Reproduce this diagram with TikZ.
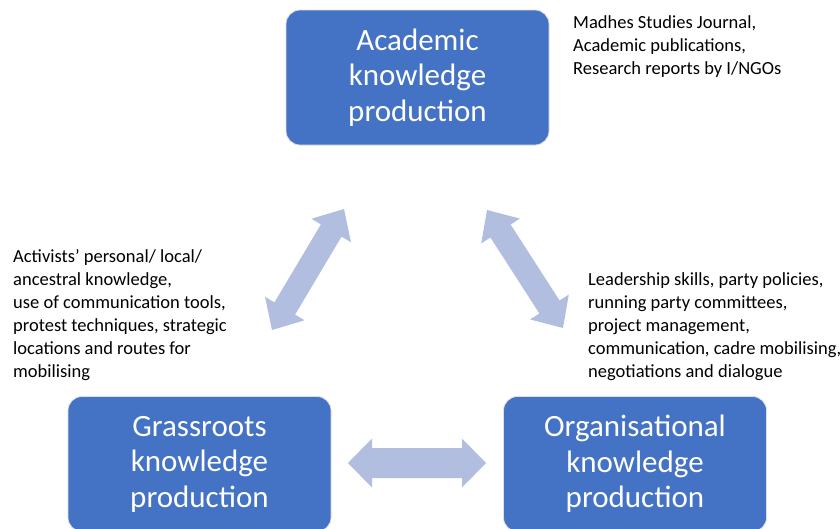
\documentclass[tikz,border=0pt]{standalone}
\usepackage{fontspec}
\setmainfont{Carlito}
\usetikzlibrary{calc}
\definecolor{boxblue}{RGB}{68,114,196}
\definecolor{arrowfill}{RGB}{177,190,224}
\newcommand{\dblarrow}[5]{%
  \coordinate (ha) at ($(#1)!#5!(#2)$);
  \coordinate (hb) at ($(#2)!#5!(#1)$);
  \fill[arrowfill] (#1) -- ($(ha)!#4!90:(#2)$) -- ($(ha)!#3!90:(#2)$)
    -- ($(hb)!#3!-90:(#1)$) -- ($(hb)!#4!-90:(#1)$) -- (#2)
    -- ($(hb)!#4!90:(#1)$) -- ($(hb)!#3!90:(#1)$)
    -- ($(ha)!#3!-90:(#2)$) -- ($(ha)!#4!-90:(#2)$) -- cycle;}
\begin{document}
\begin{tikzpicture}[x=1pt,y=-1pt,
  box/.style={fill=boxblue,draw=gray!25,line width=0.8pt,rounded corners=14pt,
    minimum width=263pt,minimum height=135pt,text=white,align=center,
    font=\fontsize{31}{35.5}\selectfont,inner sep=0pt},
  note/.style={align=left,anchor=north west,inner sep=0pt,
    font=\fontsize{18.5}{23}\selectfont}]
\useasboundingbox (0,0) rectangle (840,528);
\clip (0,0) rectangle (840,528);
\node[box] (acad) at (417.5,77.5) {Academic\\knowledge\\production};
\node[box] (grass) at (199.5,464) {Grassroots\\knowledge\\production};
\node[box] (org) at (635,464) {Organisational\\knowledge\\production};
\node[note] (tacad) at (573,15) {Madhes Studies Journal,\\Academic publications,\\Research reports by I/NGOs};
\node[note] (tgrass) at (13,249) {Activists’ personal/ local/\\ancestral knowledge,\\use of communication tools,\\protest techniques, strategic\\locations and routes for\\mobilising};
\node[note] (torg) at (588,272) {Leadership skills, party policies,\\running party committees,\\project management,\\communication, cadre mobilising,\\negotiations and dialogue};
\coordinate (l1) at (272,330);
\coordinate (l2) at (344,209);
\coordinate (r1) at (487,210);
\coordinate (r2) at (563,328);
\coordinate (h1) at (348,463);
\coordinate (h2) at (486,463);
\dblarrow{l1}{l2}{12pt}{23pt}{25pt}
\dblarrow{r1}{r2}{12pt}{23pt}{25pt}
\dblarrow{h1}{h2}{15pt}{24.5pt}{24pt}
\end{tikzpicture}
\end{document}
